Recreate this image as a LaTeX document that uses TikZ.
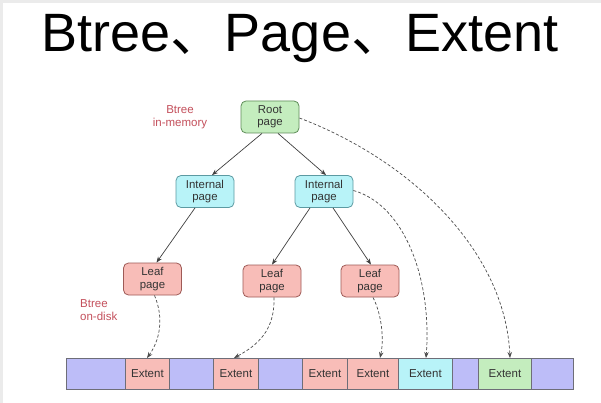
\documentclass[tikz,border=0pt]{standalone}
\usepackage{fontspec}
\setmainfont{Liberation Sans}
\newfontfamily\cjkfont{Noto Sans CJK SC}
\usetikzlibrary{arrows.meta}
\definecolor{greenfill}{HTML}{C4EDBE}
\definecolor{greenline}{HTML}{5E8C58}
\definecolor{cyanfill}{HTML}{B8F3F8}
\definecolor{cyanline}{HTML}{5C9AA2}
\definecolor{pinkfill}{HTML}{F8BDB8}
\definecolor{pinkline}{HTML}{9E5A56}
\definecolor{bluefill}{HTML}{BDBDF8}
\definecolor{cellline}{HTML}{6E6E78}
\definecolor{labelred}{HTML}{C4505C}
\definecolor{txt}{HTML}{333333}
\tikzset{
  pagebox/.style={rounded corners=5pt, draw, line width=0.8pt, minimum width=58pt, minimum height=32pt,
    inner sep=0pt, align=center, font=\fontsize{11.4}{12.5}\selectfont, text=txt},
  rootbox/.style={pagebox, fill=greenfill, draw=greenline},
  intbox/.style={pagebox, fill=cyanfill, draw=cyanline},
  leafbox/.style={pagebox, fill=pinkfill, draw=pinkline},
  cell/.style={draw=cellline, line width=0.8pt, minimum height=31pt, inner sep=0pt,
    font=\fontsize{11.5}{12.5}\selectfont, text=txt, anchor=north west},
  tree/.style={draw=black!75, line width=0.7pt, -{Stealth[length=6pt,width=4.5pt]}},
  ptr/.style={draw=black!70, line width=0.7pt, dashed, dash pattern=on 3pt off 2pt, -{Stealth[length=6pt,width=4.5pt]}},
  redlabel/.style={text=labelred, font=\fontsize{11.5}{13}\selectfont, inner sep=0pt}
}
\begin{document}
\begin{tikzpicture}[x=1pt,y=-1pt]
\useasboundingbox (0,0) rectangle (601,403);
\fill[white] (0,0) rectangle (601,403);
\fill[black!8] (0,0) rectangle (601,3);
\fill[black!8] (0,0) rectangle (3,403);
% title
\node[font=\fontsize{54}{60}\selectfont, inner sep=0pt, anchor=base] (title) at (300,52)
  {Btree{\cjkfont 、}Page{\cjkfont 、}Extent};
% labels
\node[redlabel, align=center] (mem) at (180,117) {Btree\\in-memory};
\node[redlabel, align=left, anchor=west] (disk) at (80,310) {Btree\\on-disk};
% pages
\node[rootbox] (root) at (270,117) {Root\\page};
\node[intbox] (intl) at (205,191.5) {Internal\\page};
\node[intbox] (intr) at (324,191.5) {Internal\\page};
\node[leafbox] (leafl) at (152.5,279) {Leaf\\page};
\node[leafbox] (leafm) at (272,281) {Leaf\\page};
\node[leafbox] (leafr) at (370,281) {Leaf\\page};
% extent bar
\node[cell, fill=bluefill, minimum width=59pt] (c1) at (66,358) {};
\node[cell, fill=pinkfill, minimum width=44pt] (c2) at (125,358) {Extent};
\node[cell, fill=bluefill, minimum width=44pt] (c3) at (169,358) {};
\node[cell, fill=pinkfill, minimum width=45pt] (c4) at (213,358) {Extent};
\node[cell, fill=bluefill, minimum width=44pt] (c5) at (258,358) {};
\node[cell, fill=pinkfill, minimum width=45pt] (c6) at (302,358) {Extent};
\node[cell, fill=pinkfill, minimum width=51pt] (c7) at (347,358) {Extent};
\node[cell, fill=cyanfill, minimum width=54pt] (c8) at (398,358) {Extent};
\node[cell, fill=bluefill, minimum width=26pt] (c9) at (452,358) {};
\node[cell, fill=greenfill, minimum width=53pt] (c10) at (478,358) {Extent};
\node[cell, fill=bluefill, minimum width=42pt] (c11) at (531,358) {};
% tree edges
\draw[tree] ([xshift=-8pt]root.south) -- ([xshift=7pt]intl.north);
\draw[tree] ([xshift=8pt]root.south) -- ([xshift=2pt]intr.north);
\draw[tree] ([xshift=-10pt]intl.south) -- ([xshift=4pt]leafl.north);
\draw[tree] ([xshift=-14pt]intr.south) -- ([xshift=0pt]leafm.north);
\draw[tree] ([xshift=9pt]intr.south) -- ([xshift=1pt]leafr.north);
% dashed pointers
\coordinate (p1) at (147,358);
\coordinate (p2) at (234,358);
\coordinate (p3) at (380,358);
\coordinate (p4) at (426,358);
\coordinate (p5) at (510,358);
\draw[ptr] ([xshift=2pt]leafl.south) .. controls (164,318) and (160,340) .. (p1);
\draw[ptr] ([xshift=2pt]leafm.south) .. controls (275,330) and (258,345) .. (p2);
\draw[ptr] ([xshift=3pt]leafr.south) .. controls (382,315) and (384,340) .. (p3);
\draw[ptr] ([yshift=1pt]intr.east) .. controls (405,205) and (432,280) .. (p4);
\draw[ptr] ([yshift=-1pt]root.east) .. controls (410,160) and (505,250) .. (p5);
\end{tikzpicture}
\end{document}
